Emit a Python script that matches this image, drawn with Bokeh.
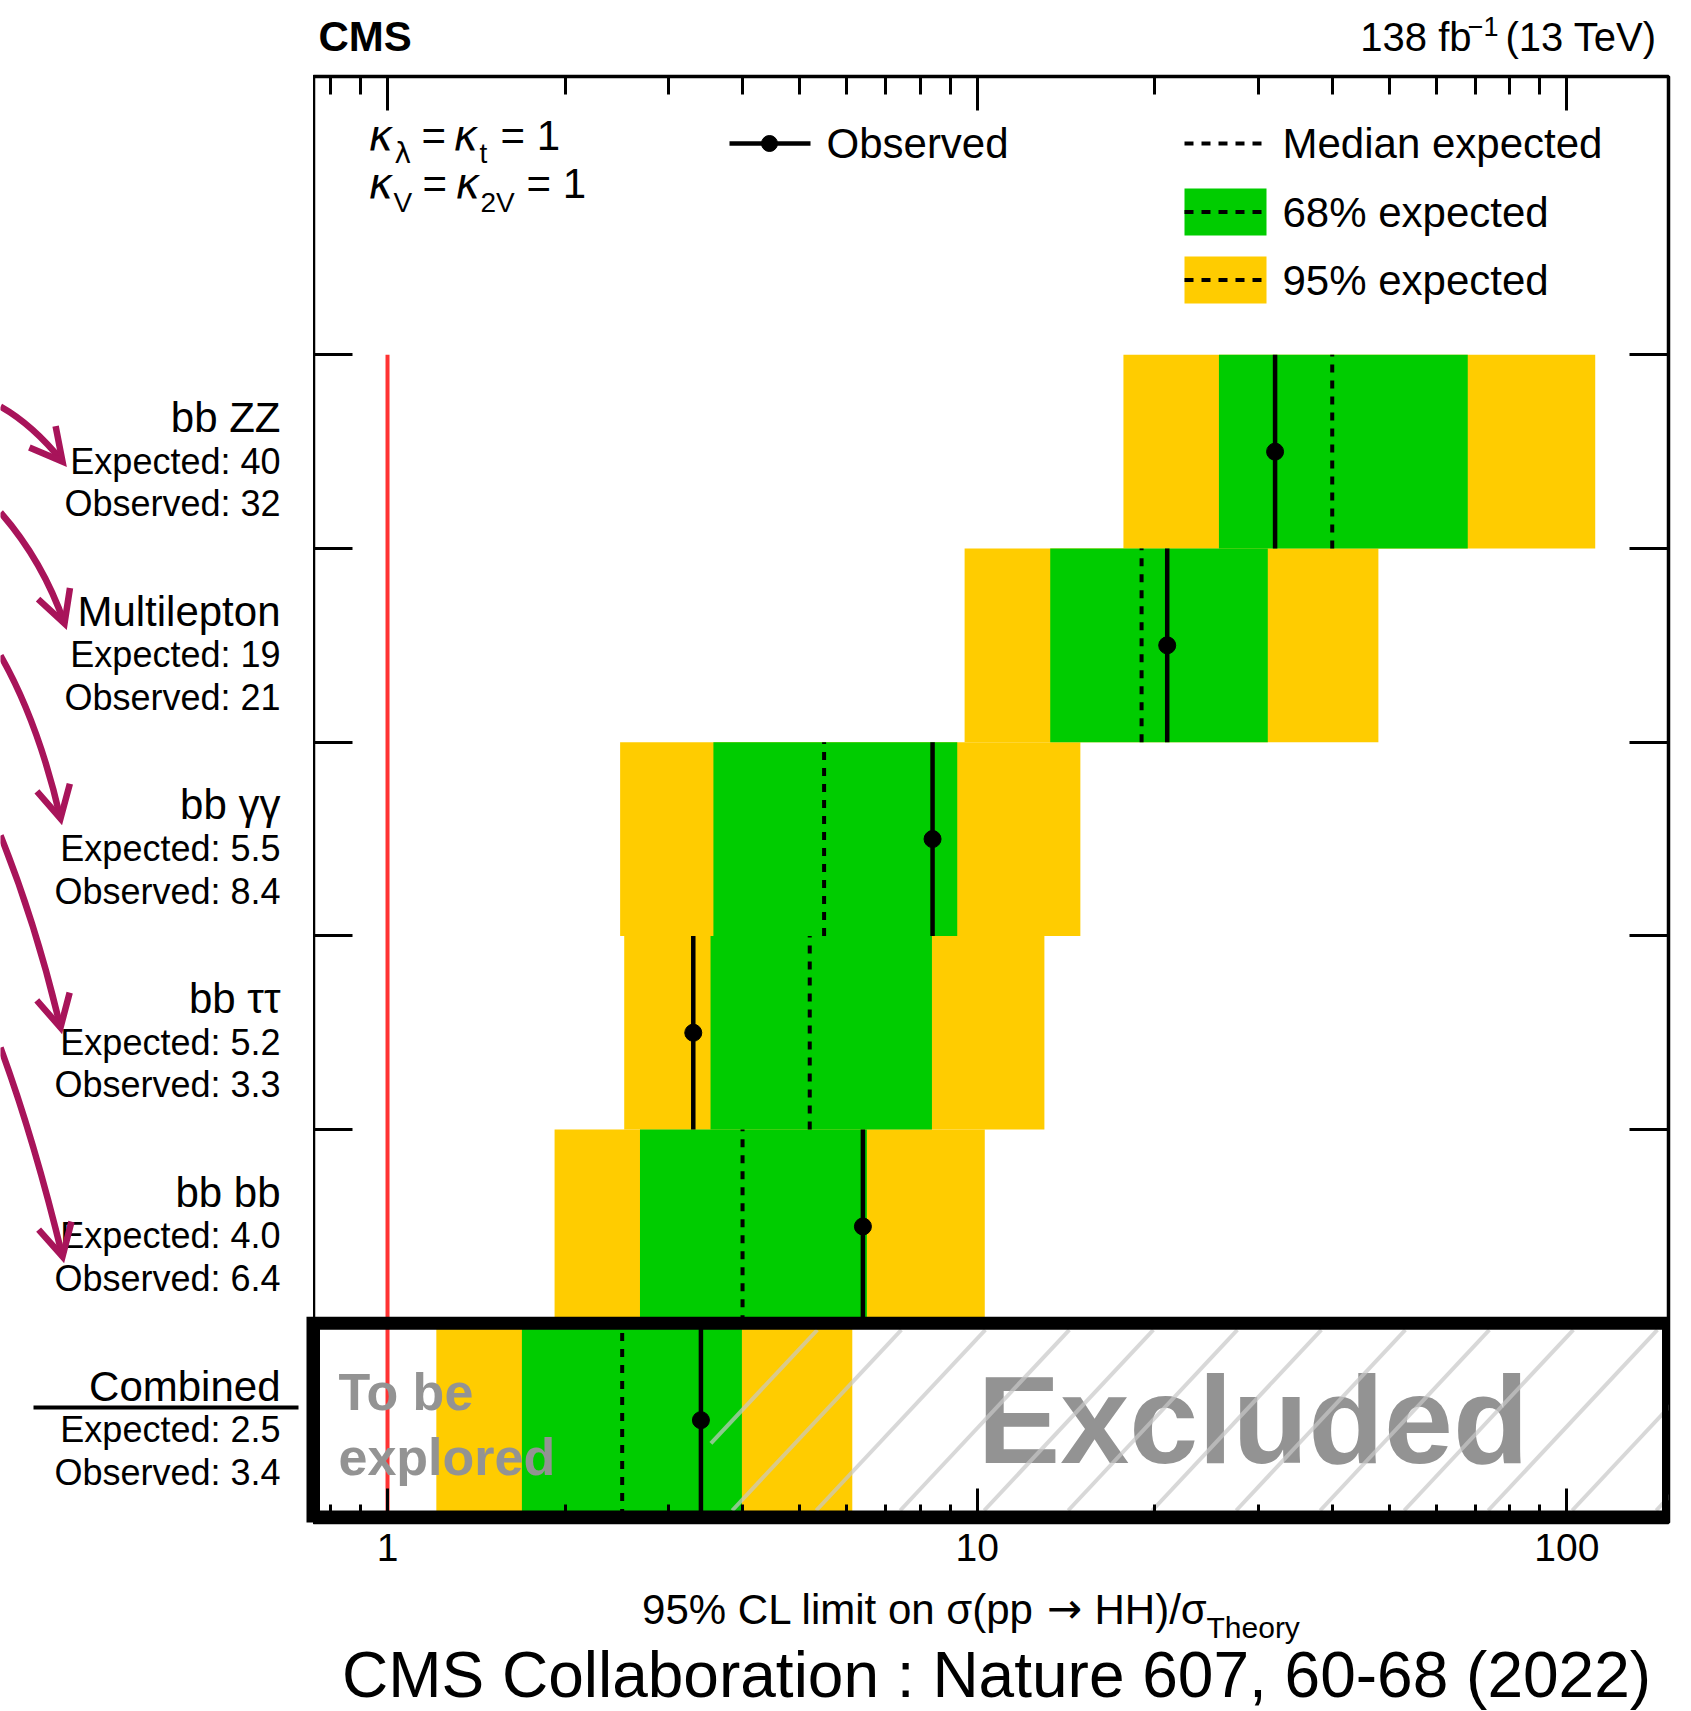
import math
from bokeh.plotting import figure
from bokeh.layouts import column, row
from bokeh.models import Range1d, FixedTicker, LinearAxis, LogAxis, LinearScale
from bokeh.embed import file_html
from bokeh.resources import INLINE
from bokeh.core.properties import value

# ---------------- data ----------------
channels = ["Combined", "bb bb", "bb ττ", "bb γγ", "Multilepton", "bb ZZ"]
expected_limit = [2.5, 4.0, 5.2, 5.5, 19, 40]
observed_limit = [3.4, 6.4, 3.3, 8.4, 21, 32]
band68_low = [1.69, 2.68, 3.53, 3.57, 13.3, 25.7]
band68_high = [3.99, 6.5, 8.38, 9.25, 31.1, 67.9]
band95_low = [1.21, 1.92, 2.52, 2.48, 9.52, 17.7]
band95_high = [6.14, 10.3, 13.0, 14.96, 47.9, 111.7]
theory_value = 1.0
x_tick_values = [1, 10, 100]
x_tick_labels = ["1", "10", "100"]


def fmt(v):
    return f"{v:.1f}" if v < 10 else f"{v:.0f}"


# ---------------- layout constants ----------------
W, H = 1691, 1711
FL, FR, FT, FB = 313, 1668, 76, 1522
TOP_H = 66
MB_TOP = FT - TOP_H
MB_BOT = 56
MID_H = MB_TOP + (FB - FT) + MB_BOT
BOT_H = H - TOP_H - MID_H
XMIN, XMAX = 0.749, 148.7
ROW_PX = 193.7
YMIN = -0.5 - (FB - 1516.5) / ROW_PX
YMAX = YMIN + (FB - FT) / ROW_PX

SANS = "Liberation Sans"
GREEK = "DejaVu Sans"
YELLOW = "#FFCC00"
GREEN = "#00CC00"
GRAY_TXT = "#939393"
ARROW = "#A8145A"
RED = "#FF3333"
SHIFT = 0.36  # measured offset of the rendered baseline, in font sizes

n = len(channels)
rows = list(range(n))
bottoms = [r - 0.5 for r in rows]
tops = [r + 0.5 for r in rows]


def px_x(v):
    return FL + (math.log10(v) - math.log10(XMIN)) / (math.log10(XMAX) - math.log10(XMIN)) * (FR - FL)


def px_y(v):
    return FB - (v - YMIN) * ROW_PX


def bpx(y, size):
    """baseline position in downward pixel coordinates"""
    return y - SHIFT * size


def bdata(y, size):
    """baseline position in upward data coordinates"""
    return y + SHIFT * size / ROW_PX


def base_fig(**kw):
    return figure(toolbar_location=None, output_backend="svg",
                  background_fill_color="white", border_fill_color="white", **kw)


# ---------------- main figure ----------------
y_range = Range1d(YMIN, YMAX)
main = base_fig(width=W - FL, height=MID_H, x_axis_type="log", y_axis_type=None,
                x_range=Range1d(XMIN, XMAX), y_range=y_range,
                min_border_left=0, min_border_right=W - FR,
                min_border_top=MB_TOP, min_border_bottom=MB_BOT,
                outline_line_color="black", outline_line_width=3.5)
main.xgrid.visible = False
main.extra_x_ranges = {"px": Range1d(FL, FR)}
main.extra_x_scales = {"px": LinearScale()}
main.extra_y_ranges = {"px": Range1d(FB, FT)}
main.extra_y_scales = {"px": LinearScale()}

minor = [m * 10.0 ** e for e in range(-1, 3) for m in range(2, 10)
         if XMIN < m * 10.0 ** e < XMAX]
xt = FixedTicker(ticks=x_tick_values, minor_ticks=minor)


def style_axis(ax, tick_in, minor_in=0):
    ax.major_tick_in = tick_in
    ax.major_tick_out = 0
    ax.minor_tick_in = minor_in
    ax.minor_tick_out = 0
    ax.major_tick_line_width = 3
    ax.minor_tick_line_width = 3
    ax.major_tick_line_color = "black"
    ax.minor_tick_line_color = "black"
    ax.axis_line_color = None


def hide_labels(ax, ticks):
    ax.major_label_overrides = {t: "" for t in ticks}
    ax.major_label_text_font_size = "1px"
    ax.major_label_text_alpha = 0
    ax.major_label_standoff = 0


xb = main.xaxis[0]
xb.ticker = xt
style_axis(xb, 34, 18)
xb.major_label_overrides = {v: s for v, s in zip(x_tick_values, x_tick_labels)}
xb.major_label_text_font = SANS
xb.major_label_text_font_size = "39px"
xb.major_label_text_color = "black"
xb.major_label_standoff = 11

xa = LogAxis(ticker=xt)
style_axis(xa, 34, 18)
hide_labels(xa, x_tick_values)
main.add_layout(xa, "above")

row_edges = [r + 0.5 for r in rows[1:]]
yt = FixedTicker(ticks=row_edges, minor_ticks=[])
for side in ("left", "right"):
    ya = LinearAxis(ticker=yt)
    style_axis(ya, 39, 0)
    hide_labels(ya, row_edges)
    main.add_layout(ya, side)

# bands
main.quad(left=band95_low, right=band95_high, bottom=bottoms, top=tops,
          fill_color=YELLOW, line_color=None)
main.quad(left=band68_low, right=band68_high, bottom=bottoms, top=tops,
          fill_color=GREEN, line_color=None)
# theory line
main.segment(x0=[theory_value], x1=[theory_value], y0=[bottoms[0]], y1=[tops[-1]],
             line_color=RED, line_width=4)
# expected (dashed) and observed
main.segment(x0=expected_limit, x1=expected_limit, y0=bottoms, y1=tops,
             line_color="black", line_width=4, line_dash="8 8")
main.segment(x0=observed_limit, x1=observed_limit, y0=bottoms, y1=tops,
             line_color="black", line_width=4.5)
main.scatter(x=observed_limit, y=rows, size=17, color="black")

# "To be explored" / "Excluded"
main.text(x=[338, 338], y=[bpx(1410, 52), bpx(1475, 52)], text=["To be", "explored"],
          x_range_name="px", y_range_name="px",
          text_font=value(SANS), text_font_style="bold", text_font_size="52px",
          text_color=GRAY_TXT, text_baseline="alphabetic", text_align="left")
main.text(x=[977], y=[bpx(1464, 124)], text=["Excluded"],
          x_range_name="px", y_range_name="px",
          text_font=value(SANS), text_font_style="bold", text_font_size="124px",
          text_color=GRAY_TXT, text_baseline="alphabetic", text_align="left")

# hatch over the excluded region of the combined row
BOX_W = 13
y_in_top = px_y(tops[0]) + BOX_W / 2
y_in_bot = px_y(bottoms[0]) - BOX_W / 2
hatch_left = px_x(observed_limit[0]) + 10
slope = 0.936  # dx per dy (pixels)
hx0, hx1, hy0, hy1 = [], [], [], []
for k in range(16):
    xb0 = 647.7 + 84 * k
    xt0 = xb0 + slope * (y_in_bot - y_in_top)
    yb = y_in_bot
    if xt0 <= hatch_left:
        continue
    if xb0 < hatch_left:
        yb = y_in_bot - (hatch_left - xb0) / slope
        xb0 = hatch_left
    hx0.append(xb0); hy0.append(yb); hx1.append(xt0); hy1.append(y_in_top)
main.segment(x0=hx0, y0=hy0, x1=hx1, y1=hy1, x_range_name="px", y_range_name="px",
             line_color="#C8C8C8", line_alpha=0.7, line_width=4)

# combined box
main.quad(left=[XMIN], right=[XMAX], bottom=[bottoms[0]], top=[tops[0]],
          fill_color=None, line_color="black", line_width=BOX_W)

# legend
main.segment(x0=[729], x1=[810], y0=[143], y1=[143], x_range_name="px", y_range_name="px",
             line_color="black", line_width=4.5)
main.scatter(x=[769], y=[143], size=16, color="black", x_range_name="px", y_range_name="px")
main.quad(left=[1184, 1184], right=[1266, 1266], top=[188, 256], bottom=[235, 303],
          fill_color=[GREEN, YELLOW], line_color=None, x_range_name="px", y_range_name="px")
main.segment(x0=[1184, 1184, 1184], x1=[1266, 1266, 1266], y0=[143, 211.5, 279.5],
             y1=[143, 211.5, 279.5], x_range_name="px", y_range_name="px",
             line_color="black", line_width=4, line_dash="9 8")
main.text(x=[826, 1282, 1282, 1282],
          y=[bpx(158, 42), bpx(158, 42), bpx(227, 42), bpx(295, 42)],
          text=["Observed", "Median expected", "68% expected", "95% expected"],
          x_range_name="px", y_range_name="px", text_font=value(SANS),
          text_font_size="42px", text_color="black", text_baseline="alphabetic")

# kappa annotations
kappa_pieces = [
    ("κ", 368, 150, 42, GREEK, "italic"),
    ("λ", 394, 163, 28, GREEK, "normal"),
    ("=", 421, 150, 42, SANS, "normal"),
    ("κ", 453, 150, 42, GREEK, "italic"),
    ("t", 479, 163, 28, SANS, "normal"),
    ("= 1", 500, 150, 42, SANS, "normal"),
    ("κ", 368, 198, 42, GREEK, "italic"),
    ("V", 393, 212, 28, SANS, "normal"),
    ("=", 422, 198, 42, SANS, "normal"),
    ("κ", 455, 198, 42, GREEK, "italic"),
    ("2V", 480, 212, 28, SANS, "normal"),
    ("= 1", 526, 198, 42, SANS, "normal"),
]
for txt, x, y, size, font, style in kappa_pieces:
    main.text(x=[x], y=[bpx(y, size)], text=[txt], x_range_name="px", y_range_name="px",
              text_font=value(font), text_font_size=f"{size}px", text_font_style=style,
              text_color="black", text_baseline="alphabetic")

# ---------------- left label panel ----------------
left = base_fig(width=FL, height=MID_H, x_range=Range1d(0, FL), y_range=y_range,
                x_axis_type=None, y_axis_type=None,
                min_border_left=0, min_border_right=0,
                min_border_top=MB_TOP, min_border_bottom=MB_BOT,
                outline_line_color=None)
left.extra_y_ranges = {"px": Range1d(FB, FT)}
left.extra_y_scales = {"px": LinearScale()}
LABEL_X = 280
left.text(x=[LABEL_X] * n, y=[bdata(r + 0.098, 42) for r in rows], text=channels,
          text_align="right", text_baseline="alphabetic", text_font=value(SANS),
          text_font_size="42px", text_color="black")
left.text(x=[LABEL_X] * n, y=[bdata(r - 0.116, 36) for r in rows],
          text=[f"Expected: {fmt(v)}" for v in expected_limit],
          text_align="right", text_baseline="alphabetic", text_font=value(SANS),
          text_font_size="36px", text_color="black")
left.text(x=[LABEL_X] * n, y=[bdata(r - 0.336, 36) for r in rows],
          text=[f"Observed: {fmt(v)}" for v in observed_limit],
          text_align="right", text_baseline="alphabetic", text_font=value(SANS),
          text_font_size="36px", text_color="black")
# underline below "Combined"
left.segment(x0=[33], x1=[298], y0=[1407], y1=[1407], y_range_name="px",
             line_color="black", line_width=4)
# part of the combined box sticking out of the frame
left.quad(left=[306], right=[FL], top=[px_y(tops[0]) - BOX_W / 2],
          bottom=[px_y(bottoms[0]) + BOX_W / 2], y_range_name="px",
          fill_color="black", line_color=None)

# curved arrows
arrows = [
    ((0, 406), (32, 424), (62, 461)),
    ((0, 512), (42, 560), (64, 623)),
    ((0, 655), (38, 722), (60, 818)),
    ((0, 835), (36, 925), (60, 1027)),
    ((0, 1047), (34, 1140), (62, 1256)),
]
left.quadratic(x0=[a[0][0] for a in arrows], y0=[a[0][1] for a in arrows],
               x1=[a[2][0] for a in arrows], y1=[a[2][1] for a in arrows],
               cx=[a[1][0] for a in arrows], cy=[a[1][1] for a in arrows],
               y_range_name="px", line_color=ARROW, line_width=6.5)
hxs, hys = [], []
for start, ctrl, tip in arrows:
    dx, dy = ctrl[0] - tip[0], ctrl[1] - tip[1]
    d = math.hypot(dx, dy)
    ux, uy = dx / d, dy / d
    pts = []
    for s in (1, -1):
        a = s * math.radians(28)
        rx = ux * math.cos(a) - uy * math.sin(a)
        ry = ux * math.sin(a) + uy * math.cos(a)
        pts.append((tip[0] + rx * 36, tip[1] + ry * 36))
    hxs.append([pts[0][0], tip[0], pts[1][0]])
    hys.append([pts[0][1], tip[1], pts[1][1]])
left.multi_line(xs=hxs, ys=hys, y_range_name="px", line_color=ARROW,
                line_width=6.5, line_join="miter")

# ---------------- top strip ----------------
top = base_fig(width=W, height=TOP_H, x_range=Range1d(0, W), y_range=Range1d(TOP_H, 0),
               x_axis_type=None, y_axis_type=None, min_border=0, outline_line_color=None)
top.text(x=[318], y=[bpx(51, 42)], text=["CMS"], text_font=value(SANS), text_font_style="bold",
         text_font_size="42px", text_color="black", text_baseline="alphabetic")
top.text(x=[1471], y=[bpx(51, 40)], text=["138 fb"], text_font=value(SANS), text_font_size="40px",
         text_color="black", text_baseline="alphabetic", text_align="right")
top.text(x=[1498], y=[bpx(36, 27)], text=["−1"], text_font=value(SANS), text_font_size="27px",
         text_color="black", text_baseline="alphabetic", text_align="right")
top.text(x=[1505], y=[bpx(51, 40)], text=["(13 TeV)"], text_font=value(SANS), text_font_size="40px",
         text_color="black", text_baseline="alphabetic", text_align="left")

# ---------------- bottom strip ----------------
bot = base_fig(width=W, height=BOT_H, x_range=Range1d(0, W), y_range=Range1d(H, H - BOT_H),
               x_axis_type=None, y_axis_type=None, min_border=0, outline_line_color=None)
bot.text(x=[1034], y=[bpx(1624, 42)], text=["95% CL limit on σ(pp"], text_font=value(SANS),
         text_font_size="42px", text_color="black", text_baseline="alphabetic",
         text_align="right")
bot.text(x=[1064], y=[bpx(1623, 42)], text=["→"], text_font=value(GREEK),
         text_font_size="42px", text_color="black", text_baseline="alphabetic",
         text_align="center")
bot.text(x=[1094], y=[bpx(1624, 42)], text=["HH)/σ"], text_font=value(SANS),
         text_font_size="42px", text_color="black", text_baseline="alphabetic",
         text_align="left")
bot.text(x=[1206], y=[bpx(1638, 30)], text=["Theory"], text_font=value(SANS),
         text_font_size="30px", text_color="black", text_baseline="alphabetic",
         text_align="left")
bot.text(x=[996], y=[bpx(1698, 64)], text=["CMS Collaboration : Nature 607, 60-68 (2022)"],
         text_font=value(SANS), text_font_size="64px", text_color="black",
         text_baseline="alphabetic", text_align="center")

layout = column(top, row(left, main), bot)
open("out.html", "w").write(file_html(layout, INLINE))
